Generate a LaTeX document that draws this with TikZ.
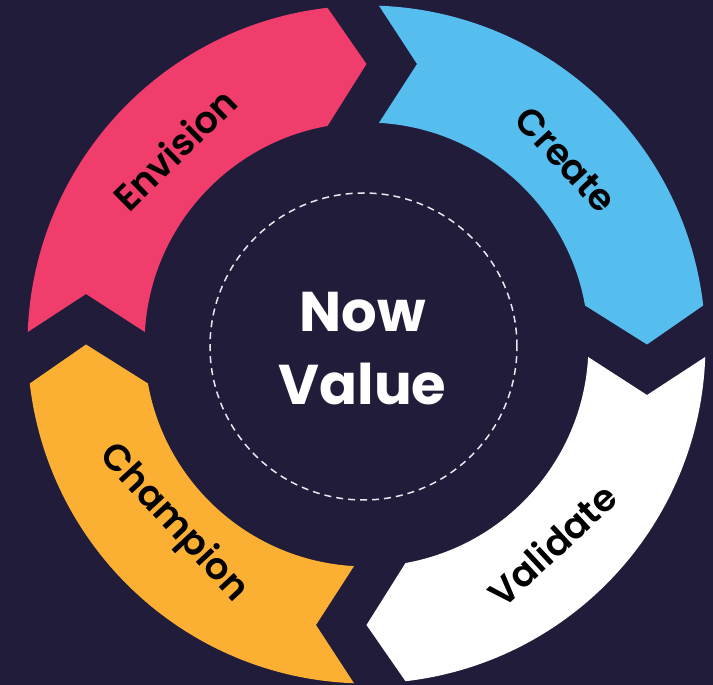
\documentclass[tikz,border=0pt]{standalone}
\usepackage{fontspec}
\newfontfamily\cyclefont{Poppins}[UprightFont=* SemiBold, BoldFont=* Bold]
\definecolor{bgnavy}{RGB}{34,28,59}
\definecolor{rosepink}{RGB}{240,61,107}
\definecolor{skyblue}{RGB}{86,190,238}
\definecolor{amber}{RGB}{251,176,52}
\definecolor{ringline}{RGB}{232,232,238}
\begin{document}
\begin{tikzpicture}[x=1pt,y=1pt,
  steplabel/.style={font=\cyclefont\fontsize{37}{40}\selectfont, text=black, inner sep=0pt},
  corelabel/.style={font=\cyclefont\bfseries\fontsize{56}{73}\selectfont, text=white, align=center, inner sep=0pt},
  coreline/.style={draw=ringline, line width=1.5pt, dash pattern=on 7pt off 5pt, circle, minimum size=307pt, inner sep=0pt}]
% background
\useasboundingbox[fill=bgnavy] (-366.5,-340.5) rectangle (346.5,344.5);
% four arrow segments of the cycle, each a quarter ring with a notched tail and a pointed head
\foreach \rot/\col in {0/rosepink,-90/skyblue,-180/white,-270/amber} {
  \fill[\col, rotate=\rot]
    (177.89:339) -- (-280.5,50.5) -- (176.77:222)
    arc[start angle=176.77, end angle=100.12, radius=222]
    -- (0,280.5) -- (96.61:339)
    arc[start angle=96.61, end angle=177.89, radius=339] -- cycle;
}
% step labels
\node[steplabel, rotate=44.5]  (envision) at (134.5:274) {Envision};
\node[steplabel, rotate=-47.2] (create)   at (42.8:272)  {Create};
\node[steplabel, rotate=42.8]  (validate) at (-47.2:273) {Validate};
\node[steplabel, rotate=-47.2] (champion) at (222.8:263) {Champion};
% centre
\node[coreline] (core) at (-3,-2) {};
\node[corelabel] (corelabel) at (-4,-4) {Now\\Value};
\end{tikzpicture}
\end{document}
